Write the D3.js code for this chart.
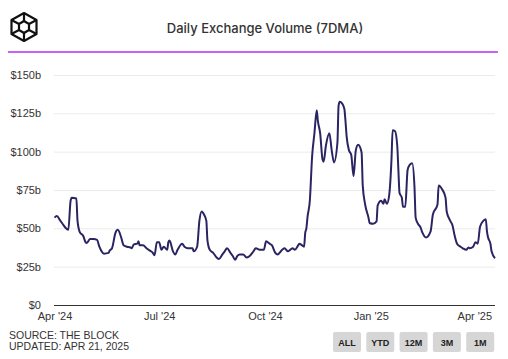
<!DOCTYPE html>
<html>
<head>
<meta charset="utf-8">
<script src="https://cdn.jsdelivr.net/npm/d3@7"></script>
<style>
  html, body { margin: 0; padding: 0; background: #fff; }
  svg { display: block; font-family: "Liberation Sans", Arial, sans-serif; }
</style>
</head>
<body>
<div id="chart"></div>
<script>
const dates = [
  '2024-04-01','2024-04-03','2024-04-06','2024-04-08','2024-04-11','2024-04-13','2024-04-15','2024-04-16',
  '2024-04-20','2024-04-21','2024-04-23','2024-04-26','2024-04-28','2024-04-29','2024-05-02','2024-05-05',
  '2024-05-08','2024-05-10','2024-05-12','2024-05-14','2024-05-18','2024-05-19','2024-05-21','2024-05-24',
  '2024-05-26','2024-05-29','2024-05-31','2024-06-03','2024-06-06','2024-06-07','2024-06-09','2024-06-12',
  '2024-06-13','2024-06-14','2024-06-17','2024-06-20','2024-06-23','2024-06-25','2024-06-27','2024-06-29',
  '2024-07-01','2024-07-03','2024-07-05','2024-07-08','2024-07-09','2024-07-10','2024-07-13','2024-07-15',
  '2024-07-17','2024-07-21','2024-07-23','2024-07-26','2024-07-30','2024-07-31','2024-08-03','2024-08-05',
  '2024-08-07','2024-08-09','2024-08-11','2024-08-12','2024-08-14','2024-08-17','2024-08-20','2024-08-22',
  '2024-08-25','2024-08-27','2024-08-29','2024-09-01','2024-09-03','2024-09-05','2024-09-07','2024-09-09',
  '2024-09-12','2024-09-15','2024-09-17','2024-09-21','2024-09-23','2024-09-27','2024-09-30','2024-10-02',
  '2024-10-05','2024-10-07','2024-10-10','2024-10-12','2024-10-16','2024-10-18','2024-10-21','2024-10-25',
  '2024-10-27','2024-10-30','2024-10-31','2024-11-02','2024-11-04','2024-11-05','2024-11-06','2024-11-07',
  '2024-11-09','2024-11-11','2024-11-13','2024-11-15','2024-11-16','2024-11-18','2024-11-20','2024-11-21',
  '2024-11-23','2024-11-26','2024-11-28','2024-11-30','2024-12-03','2024-12-04','2024-12-05','2024-12-07',
  '2024-12-09','2024-12-10','2024-12-11','2024-12-13','2024-12-15','2024-12-17','2024-12-19','2024-12-21',
  '2024-12-24','2024-12-25','2024-12-27','2024-12-30','2024-12-31','2025-01-03','2025-01-06','2025-01-07',
  '2025-01-10','2025-01-12','2025-01-13','2025-01-15','2025-01-17','2025-01-19','2025-01-20','2025-01-22',
  '2025-01-24','2025-01-25','2025-01-26','2025-01-28','2025-01-29','2025-01-31','2025-02-02','2025-02-04',
  '2025-02-06','2025-02-08','2025-02-09','2025-02-11','2025-02-13','2025-02-15','2025-02-18','2025-02-22',
  '2025-02-24','2025-02-28','2025-03-01','2025-03-04','2025-03-07','2025-03-08','2025-03-11','2025-03-13',
  '2025-03-15','2025-03-17','2025-03-20','2025-03-22','2025-03-25','2025-03-27','2025-03-28','2025-03-31',
  '2025-04-02','2025-04-04','2025-04-06','2025-04-09','2025-04-11','2025-04-12','2025-04-13','2025-04-15',
  '2025-04-16','2025-04-19'
];

// volume in $ billions
const volume = [
  57, 58, 55, 53, 50, 49, 68, 70,
  69.5, 55, 47.5, 45, 41, 40.5, 43, 43,
  42.5, 38, 35, 33.5, 34, 35.5, 37, 47,
  49, 44, 39, 38, 37.5, 37, 39.5, 40,
  41.5, 39, 39, 37, 35.5, 34.5, 32.5, 41,
  41, 36, 38, 36, 41, 42, 35, 33,
  36, 40, 38, 37, 37, 35, 38, 55,
  61, 59, 55, 42, 36, 34, 31, 30,
  33, 35, 37, 34, 32, 29.5, 32, 33,
  33, 31, 31.5, 35, 37, 36, 36, 41.5,
  40, 39, 34, 33, 36, 37, 35, 37,
  36, 39, 40, 39, 38, 47, 50, 57.5,
  68, 97, 112, 127, 120, 112, 95, 93.5,
  104, 112, 101, 93, 106, 130, 132.5, 131.5,
  128, 120, 110, 101, 98, 84, 101, 104.5,
  99.5, 78, 66, 57, 53.5, 53, 54.5, 65,
  68, 66, 69, 66, 71.7, 95, 114, 113.5,
  104, 88, 73, 70, 64, 64, 88, 91.5,
  92.5, 77, 57, 53, 51, 47, 44, 48,
  59, 65.5, 78, 75.5, 70, 61, 55, 52,
  45, 40, 38, 37, 36, 37.5, 37, 38,
  41, 40, 51, 55, 56, 48, 44, 40,
  35, 30.5
];

const yTicks = [0, 25, 50, 75, 100, 125, 150];
const xTicks = ['2024-04-01', '2024-07-01', '2024-10-01', '2025-01-01', '2025-04-01'];
const buttons = ['ALL', 'YTD', '12M', '3M', '1M'];
const sourceLines = ['SOURCE: THE BLOCK', 'UPDATED: APR 21, 2025'];

const width = 508;
const height = 359;
const margin = { top: 75, right: 13, bottom: 54, left: 54 };
const innerW = width - margin.left - margin.right;
const innerH = height - margin.top - margin.bottom;

const parseDate = d3.timeParse('%Y-%m-%d');
const data = dates.map((d, i) => ({ date: parseDate(d), value: volume[i] }));

const svg = d3.select('#chart')
  .append('svg')
  .attr('width', width)
  .attr('height', height);

// logo
const logo = svg.append('g')
  .attr('transform', 'translate(24, 27)')
  .attr('fill', 'none')
  .attr('stroke', '#111')
  .attr('stroke-width', 2.2)
  .attr('stroke-linejoin', 'round');
logo.append('path').attr('d', 'M0,-14 L12.5,-7 L12.5,7 L0,14 L-12.5,7 L-12.5,-7 Z');
logo.append('path').attr('d', 'M-5,-3 L0,-6 L5,-3 L5,3 L0,6 L-5,3 Z');
logo.append('path').attr('d', 'M0,-14 L0,-6 M12.5,-7 L5,-3 M12.5,7 L5,3 M0,14 L0,6 M-12.5,7 L-5,3 M-12.5,-7 L-5,-3');

svg.append('text')
  .attr('x', 265)
  .attr('y', 33)
  .attr('text-anchor', 'middle')
  .style('font-family', 'Inter, "Liberation Sans", sans-serif')
  .style('font-size', '13px')
  .style('font-weight', '500')
  .style('fill', '#333')
  .text('Daily Exchange Volume (7DMA)');

svg.append('line')
  .attr('x1', 8).attr('x2', 498)
  .attr('y1', 52).attr('y2', 52)
  .attr('stroke', '#b52cf7')
  .attr('stroke-width', 1.5);

const g = svg.append('g')
  .attr('transform', `translate(${margin.left}, ${margin.top})`);

const x = d3.scaleTime()
  .domain([parseDate('2024-04-01'), parseDate('2025-04-19')])
  .range([0.5, innerW]);

const y = d3.scaleLinear()
  .domain([0, 150])
  .range([innerH, 0]);

// grid
g.append('g')
  .call(d3.axisLeft(y).tickValues(yTicks).tickSize(-innerW).tickFormat(''))
  .call(s => s.select('.domain').remove())
  .call(s => s.selectAll('line').attr('stroke', '#ebebeb'))
  .call(s => s.selectAll('.tick').filter(d => d === 0).remove());

// y labels
g.append('g')
  .call(d3.axisLeft(y).tickValues(yTicks).tickSize(0).tickPadding(13)
    .tickFormat(d => `$${d}${d === 0 ? '' : 'b'}`))
  .call(s => s.select('.domain').remove())
  .call(s => s.selectAll('text')
    .style('font-size', '11px')
    .style('font-family', '"Liberation Sans", Arial, sans-serif')
    .attr('fill', '#333'));

// x axis
g.append('g')
  .attr('transform', `translate(0, ${innerH})`)
  .call(d3.axisBottom(x).tickValues(xTicks.map(parseDate)).tickSize(0).tickPadding(7)
    .tickFormat(d3.timeFormat("%b '%y")))
  .call(s => s.select('.domain').attr('stroke', '#333').attr('d', `M0,0.5H${innerW}`))
  .call(s => s.selectAll('text')
    .style('font-size', '11px')
    .style('font-family', '"Liberation Sans", Arial, sans-serif')
    .attr('fill', '#333'));

const line = d3.line()
  .x(d => x(d.date))
  .y(d => y(d.value))
  .curve(d3.curveMonotoneX);

g.append('path')
  .datum(data)
  .attr('fill', 'none')
  .attr('stroke', '#2b2463')
  .attr('stroke-width', 2)
  .attr('stroke-linejoin', 'round')
  .attr('d', line);

// footer
svg.selectAll('.source')
  .data(sourceLines)
  .enter()
  .append('text')
  .attr('class', 'source')
  .attr('x', 9)
  .attr('y', (d, i) => 339 + i * 11)
  .style('font-size', '10.5px')
  .style('fill', '#333')
  .text(d => d);

const btn = svg.selectAll('.btn')
  .data(buttons)
  .enter()
  .append('g')
  .attr('class', 'btn')
  .attr('transform', (d, i) => `translate(${333 + i * 33.3}, 332)`);

btn.append('rect')
  .attr('width', 28)
  .attr('height', 20)
  .attr('rx', 2)
  .attr('fill', '#d6d6d6');

btn.append('text')
  .attr('x', 14)
  .attr('y', 13.5)
  .attr('text-anchor', 'middle')
  .style('font-size', '9px')
  .style('font-weight', 'bold')
  .style('fill', '#222')
  .text(d => d);
</script>
</body>
</html>
